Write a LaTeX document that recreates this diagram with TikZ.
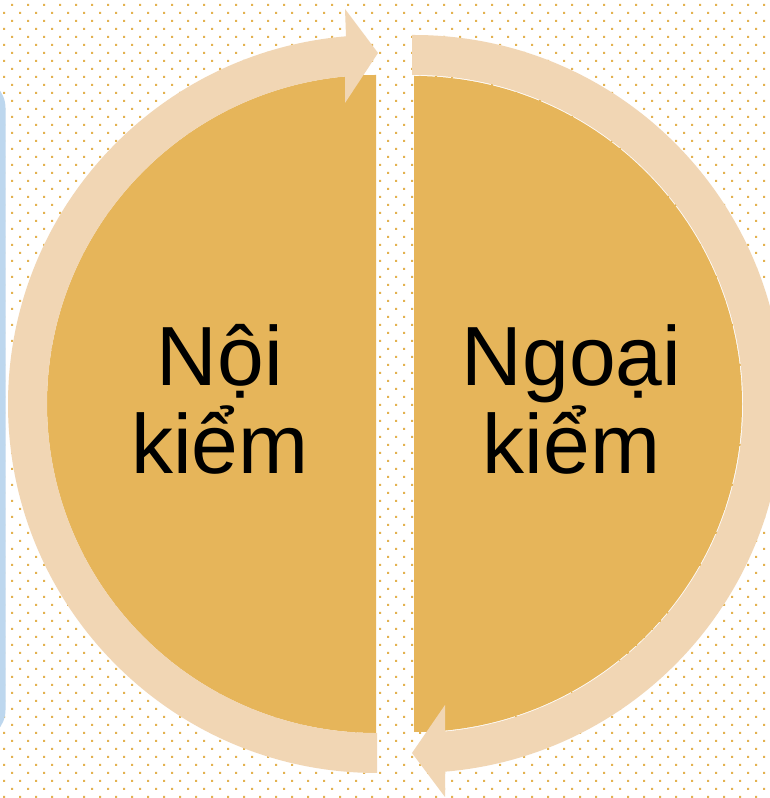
\documentclass[tikz,border=0pt]{standalone}
\usepackage{fontspec}
\setmainfont{Liberation Sans}
\definecolor{diskc}{HTML}{E6B55A}
\definecolor{ringc}{HTML}{F1D6B4}
\definecolor{dotc}{HTML}{E3B250}
\definecolor{bluec}{HTML}{BDD7EE}
\tikzset{
  lbl/.style={font=\fontsize{84}{88}\selectfont, align=center, inner sep=0pt, text=black},
  disk/.style={fill=diskc},
  ringarrow/.style={fill=ringc}
}
\begin{document}
\begin{tikzpicture}[x=1pt,y=1pt]
\useasboundingbox (0,0) rectangle (769,798);
\fill[white] (0,0) rectangle (769,798);
% dotted background
\fill[dotc] \foreach \k in {0,...,99}{ \foreach \j in {0,...,48}{ ({11+16*\j-8*mod(\k,2)}, {794-8*\k}) rectangle ++(2,-2) } };
% partial blue shape at left edge
\fill[bluec, rounded corners=30pt] (-100,58) rectangle (5.5,720);
% centres
\coordinate (cl) at (376,394);
\coordinate (cr) at (414,394);
% half disks
\fill[disk] (376,723) arc[start angle=90, end angle=270, radius=329] -- cycle;
\fill[disk] (414,722) arc[start angle=90, end angle=-90, radius=328] -- cycle;
% left ring arrow (bottom -> left -> top, head pointing right)
\fill[ringarrow] (377,25) arc[start angle=270, end angle=94.82, radius=369]
  -- (345,789) -- (378,745) -- (345,695) -- (345,721.5)
  arc[start angle=95.41, end angle=270, radius=329] -- (377,65) -- cycle;
% right ring arrow (top -> right -> bottom, head pointing left)
\fill[ringarrow] (412,763) -- (414,763) arc[start angle=90, end angle=-85.18, radius=369]
  -- (445,1) -- (412,45) -- (445,93) -- (445,66.5)
  arc[start angle=-84.59, end angle=90, radius=329] -- (412,723) -- cycle;
% labels
\node[lbl] (noi) at (220,399) {Nội\\kiểm};
\node[lbl] (ngoai) at (571.5,399) {Ngoại\\kiểm};
\end{tikzpicture}
\end{document}
